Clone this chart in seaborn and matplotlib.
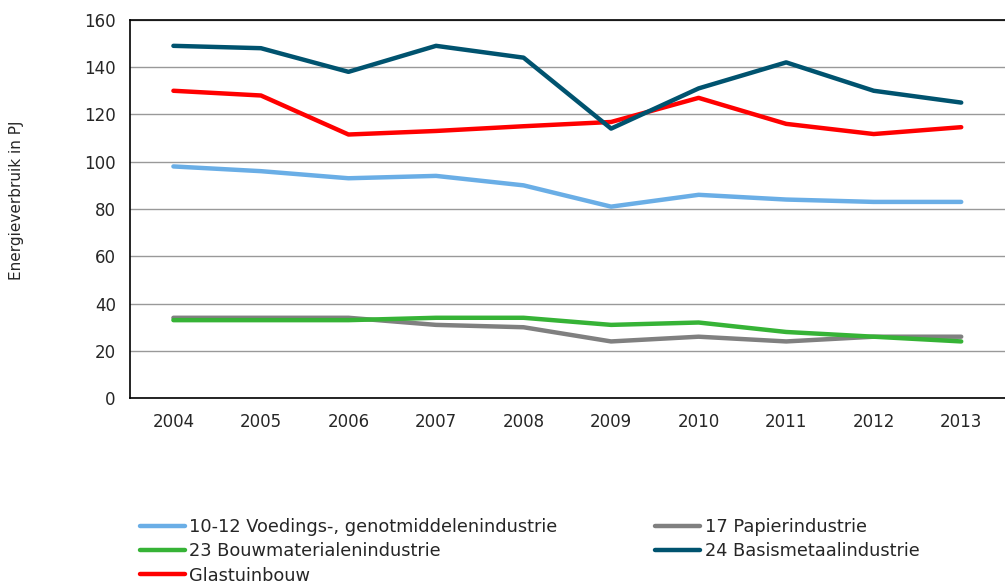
import pandas as pd
import matplotlib
matplotlib.use("Agg")
import matplotlib.pyplot as plt
import seaborn as sns
import numpy as np

years = ["2004", "2005", "2006", "2007", "2008", "2009", "2010", "2011", "2012", "2013"]
voedings = [98, 96, 93, 94, 90, 81, 86, 84, 83, 83]
papier = [34, 34, 34, 31, 30, 24, 26, 24, 26, 26]
bouw = [33, 33, 33, 34, 34, 31, 32, 28, 26, 24]
basismetaal = [149, 148, 138, 149, 144, 114, 131, 142, 130, 125]
glas = [130, 128, 111.5, 113, 115, 116.8, 127, 116, 111.7, 114.6]

series = {
    "10-12 Voedings-, genotmiddelenindustrie": voedings,
    "23 Bouwmaterialenindustrie": bouw,
    "Glastuinbouw": glas,
    "17 Papierindustrie": papier,
    "24 Basismetaalindustrie": basismetaal,
}
colors = ["#6aaee6", "#36b336", "#ff0000", "#808080", "#00536f"]
draw_order = ["17 Papierindustrie", "23 Bouwmaterialenindustrie",
              "10-12 Voedings-, genotmiddelenindustrie", "Glastuinbouw",
              "24 Basismetaalindustrie"]

rows = []
for name, vals in series.items():
    for i, v in enumerate(vals):
        rows.append({"idx": i, "waarde": v, "sector": name})
df = pd.DataFrame(rows)

sns.set_style("white")
plt.rcParams['font.family'] = ['DejaVu Sans']

fig = plt.figure(figsize=(10.05, 5.83), dpi=100)
ax = fig.add_axes([0.129, 0.317, 0.871, 0.649])

palette = dict(zip(series.keys(), colors))
for name in draw_order:
    sub = df[df["sector"] == name]
    sns.lineplot(data=sub, x="idx", y="waarde", color=palette[name], lw=3.2,
                 ax=ax, label=name, legend=False)

ax.set_ylim(0, 160)
ax.set_yticks(np.arange(0, 161, 20))
ax.set_xlim(-0.5, 9.45)
ax.set_xticks(range(len(years)))
ax.set_xticklabels(years)
ax.set_xticks(np.arange(-0.5, 9.6, 1), minor=True)
ax.tick_params(axis="x", which="major", length=0, pad=11, labelsize=12)
ax.tick_params(axis="x", which="minor", length=5, width=1, direction="out", color="black")
ax.tick_params(axis="y", length=5, width=1, direction="out", color="black", labelsize=12, pad=5)
ax.grid(axis="y", color="#999999", lw=1)
ax.set_axisbelow(True)
for side in ["left", "bottom", "top"]:
    ax.spines[side].set_color("black")
    ax.spines[side].set_linewidth(1.2)
ax.spines["right"].set_visible(False)
ax.set_xlabel("")
ax.set_ylabel("Energieverbruik in PJ", fontsize=11)
ax.yaxis.set_label_coords(-0.121, 0.524)

handles, labels = ax.get_legend_handles_labels()
hl = dict(zip(labels, handles))
order = list(series.keys())
fig.legend([hl[n] for n in order], order, ncol=2, loc="upper left",
           bbox_to_anchor=(0.132, 0.124), frameon=False, handlelength=2.53,
           handletextpad=0.25, columnspacing=5.5, labelspacing=0.36,
           borderaxespad=0, prop={"size": 12.8})

fig.savefig("out.png", dpi=100)
